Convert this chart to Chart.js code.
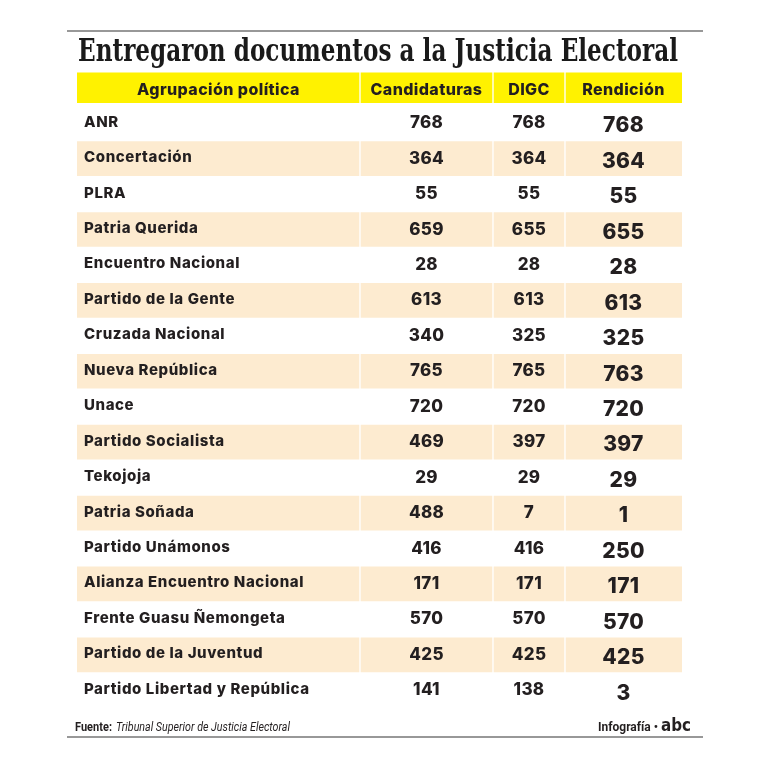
<!DOCTYPE html>
<html>
<head>
<meta charset="utf-8">
<script src="https://cdn.jsdelivr.net/npm/chart.js@4.4.1/dist/chart.umd.min.js"></script>
<style>
  html, body { margin: 0; background: #fff; }
  #wrap { width: 770px; height: 770px; }
</style>
</head>
<body>
<div id="wrap"><canvas id="table" width="770" height="770"></canvas></div>
<script>
const title = "Entregaron documentos a la Justicia Electoral"
const headers = ["Agrupación política", "Candidaturas", "DIGC", "Rendición"]
const parties = [
  "ANR", "Concertación", "PLRA", "Patria Querida", "Encuentro Nacional",
  "Partido de la Gente", "Cruzada Nacional", "Nueva República", "Unace",
  "Partido Socialista", "Tekojoja", "Patria Soñada", "Partido Unámonos",
  "Alianza Encuentro Nacional", "Frente Guasu Ñemongeta", "Partido de la Juventud",
  "Partido Libertad y República"
]
const candidaturas = [768, 364, 55, 659, 28, 613, 340, 765, 720, 469, 29, 488, 416, 171, 570, 425, 141]
const digc = [768, 364, 55, 655, 28, 613, 325, 765, 720, 397, 29, 7, 416, 171, 570, 425, 138]
const rendicion = [768, 364, 55, 655, 28, 613, 325, 763, 720, 397, 29, 1, 250, 171, 570, 425, 3]
const sourceLabel = "Fuente:"
const sourceText = "Tribunal Superior de Justicia Electoral"
const creditText = "Infografía •"

// layout
const colEdges = [0, 283, 416, 488, 605]
const rows = ["header", ...parties]
const YELLOW = "#fff200"
const BEIGE = "#fdebd0"
const INK = "#231f20"
const SANS = "Inter, 'Open Sans', sans-serif"

function cellRange(c) {
  const a = c === 0 ? colEdges[c] : colEdges[c] + 1
  const b = c === colEdges.length - 2 ? colEdges[c + 1] : colEdges[c + 1] - 1
  return [a, b]
}

const datasets = []
for (let c = 0; c < headers.length; c++) {
  datasets.push({
    data: rows.map((_, i) => i === 0 ? cellRange(c) : null),
    backgroundColor: YELLOW,
    barThickness: 30,
    grouped: false
  })
  datasets.push({
    data: rows.map((_, i) => i > 0 && i % 2 === 0 ? cellRange(c) : null),
    backgroundColor: BEIGE,
    barThickness: 34,
    grouped: false
  })
}

const textPlugin = {
  id: "tableText",
  afterDatasetsDraw(chart) {
    const { ctx, scales: { x, y } } = chart
    const centers = headers.map((_, c) => x.getPixelForValue((colEdges[c] + colEdges[c + 1]) / 2))
    ctx.save()
    ctx.fillStyle = INK
    ctx.textBaseline = "middle"

    // header
    ctx.font = `800 16px ${SANS}`
    ctx.letterSpacing = "0.4px"
    ctx.textAlign = "center"
    headers.forEach((h, c) => ctx.fillText(h, centers[c], y.getPixelForValue(0) + 2))

    // body
    parties.forEach((p, i) => {
      const py = y.getPixelForValue(i + 1)
      ctx.textAlign = "left"
      ctx.letterSpacing = "0.6px"
      ctx.font = `800 15px ${SANS}`
      ctx.fillText(p, x.getPixelForValue(colEdges[0]) + 7, py - 1)
      ctx.textAlign = "center"
      ctx.letterSpacing = "0.3px"
      ctx.font = `800 17px ${SANS}`
      ctx.fillText(String(candidaturas[i]), centers[1], py)
      ctx.fillText(String(digc[i]), centers[2], py)
      ctx.font = `800 21px ${SANS}`
      ctx.fillText(String(rendicion[i]), centers[3], py + 3)
    })
    ctx.restore()
  },
  afterDraw(chart) {
    const { ctx } = chart
    ctx.save()
    // rules
    ctx.strokeStyle = "#777"
    ctx.lineWidth = 1.5
    ctx.beginPath()
    ctx.moveTo(67, 31); ctx.lineTo(703, 31)
    ctx.moveTo(67, 737); ctx.lineTo(703, 737)
    ctx.stroke()

    // title
    ctx.fillStyle = "#1a1a1a"
    ctx.textBaseline = "alphabetic"
    ctx.textAlign = "left"
    ctx.font = "bold 31px 'DejaVu Serif', serif"
    ctx.fillText(title, 78, 61, 600)

    // footer
    ctx.fillStyle = INK
    ctx.font = "bold 13px 'Liberation Sans Narrow', Roboto, sans-serif"
    ctx.fillText(sourceLabel, 75, 731, 37)
    ctx.font = "italic 13px 'Liberation Sans Narrow', Roboto, sans-serif"
    ctx.fillText(sourceText, 116, 731, 174)

    ctx.textAlign = "right"
    ctx.font = "bold 13px 'Liberation Sans Narrow', Roboto, sans-serif"
    ctx.fillText(creditText, 658, 731, 60)
    ctx.font = "900 17px 'DejaVu Sans', sans-serif"
    ctx.fillText("abc", 691, 731, 30)
    ctx.restore()
  }
}

new Chart(document.getElementById("table"), {
  type: "bar",
  data: { labels: rows, datasets },
  options: {
    indexAxis: "y",
    responsive: false,
    animation: false,
    layout: { padding: { left: 77, right: 88, top: 70, bottom: 62 } },
    plugins: { legend: { display: false }, tooltip: { enabled: false } },
    scales: {
      x: { type: "linear", min: colEdges[0], max: colEdges[colEdges.length - 1], display: false },
      y: { type: "category", display: false, grid: { display: false } }
    }
  },
  plugins: [textPlugin]
})
</script>
</body>
</html>
